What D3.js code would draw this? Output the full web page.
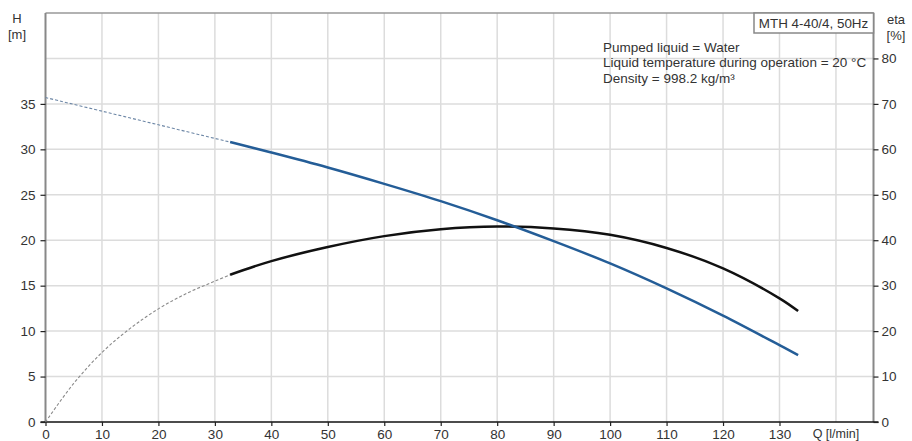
<!DOCTYPE html>
<html>
<head>
<meta charset="utf-8">
<title>MTH 4-40/4 pump curve</title>
<script src="https://d3js.org/d3.v7.min.js"></script>
<style>
  body { margin: 0; background: #fff; }
  text { font-family: "Liberation Sans", Arial, sans-serif; fill: #333; }
</style>
</head>
<body>
<div id="chart"></div>
<script>
// flow Q [l/min]
var qTicks = [0, 10, 20, 30, 40, 50, 60, 70, 80, 90, 100, 110, 120, 130];
var hTicks = [0, 5, 10, 15, 20, 25, 30, 35];
var etaTicks = [0, 10, 20, 30, 40, 50, 60, 70, 80];

// head curve, extrapolated (dashed) and operating range (solid)
var hDashQ = [0, 10, 20, 30, 32.7];
var hDashH = [35.7, 34.2, 32.7, 31.2, 30.8];
var hQ = [32.7, 40, 50, 60, 70, 80, 90, 100, 110, 120, 130, 133.3];
var hH = [30.8, 29.65, 28.0, 26.2, 24.3, 22.2, 19.9, 17.45, 14.7, 11.7, 8.45, 7.36];

// efficiency curve
var etaDashQ = [0, 5, 10, 15, 20, 25, 30, 32.7];
var etaDashE = [0, 8.5, 15.3, 20.6, 24.9, 28.3, 31.0, 32.4];
var etaQ = [32.7, 40, 50, 60, 70, 80, 90, 100, 110, 120, 130, 133.3];
var etaE = [32.4, 35.4, 38.5, 40.9, 42.4, 43.0, 42.6, 41.2, 38.3, 33.8, 27.2, 24.4];

var W = 912, H = 441;
var m = {left: 45.5, right: 912 - 873.5, top: 13, bottom: 441 - 422};

var svg = d3.select("#chart").append("svg")
  .attr("width", W).attr("height", H);

var x = d3.scaleLinear().domain([0, 146.65]).range([m.left, W - m.right]);
var y = d3.scaleLinear().domain([0, 45]).range([H - m.bottom, m.top]);
var y2 = d3.scaleLinear().domain([0, 90]).range([H - m.bottom, m.top]);

// grid
var g = svg.append("g").attr("stroke", "#dcdcdc").attr("stroke-width", 1.5);
d3.range(10, 150, 10).forEach(function(v) {
  g.append("line").attr("x1", x(v)).attr("x2", x(v))
    .attr("y1", y(0)).attr("y2", y(45));
});
d3.range(5, 45, 5).forEach(function(v) {
  g.append("line").attr("x1", x(0)).attr("x2", x.range()[1])
    .attr("y1", y(v)).attr("y2", y(v));
});

// frame
svg.append("line").attr("x1", x(0)).attr("x2", x.range()[1])
  .attr("y1", y(45)).attr("y2", y(45)).attr("stroke", "#999").attr("stroke-width", 1.5);
svg.append("line").attr("x1", x(0)).attr("x2", x(0))
  .attr("y1", y(0)).attr("y2", y(45)).attr("stroke", "#888").attr("stroke-width", 2);
svg.append("line").attr("x1", x.range()[1]).attr("x2", x.range()[1])
  .attr("y1", y(0)).attr("y2", y(45)).attr("stroke", "#888").attr("stroke-width", 2);

// axes
var xAxis = svg.append("g").attr("transform", "translate(0," + y(0) + ")")
  .call(d3.axisBottom(x).tickValues(qTicks).tickSize(4).tickPadding(3).tickSizeOuter(0));
var yAxis = svg.append("g").attr("transform", "translate(" + x(0) + ",0)")
  .call(d3.axisLeft(y).tickValues(hTicks).tickSize(5).tickPadding(5).tickSizeOuter(0));
var y2Axis = svg.append("g").attr("transform", "translate(" + x.range()[1] + ",0)")
  .call(d3.axisRight(y2).tickValues(etaTicks).tickSize(5).tickPadding(3).tickSizeOuter(0));

[xAxis, yAxis, y2Axis].forEach(function(a) {
  a.selectAll("text").style("font-size", "13.5px").attr("fill", "#333")
    .style("font-family", '"Liberation Sans", Arial, sans-serif');
  a.selectAll(".tick line").attr("stroke", "#222").attr("stroke-width", 1.2);
});
yAxis.select(".domain").remove();
y2Axis.select(".domain").remove();
xAxis.select(".domain").attr("stroke", "#111").attr("stroke-width", 1.5)
  .attr("d", "M" + (x(0) - 5) + ",0H" + (x.range()[1] + 5));

// axis titles
svg.append("text").attr("x", x(140)).attr("y", y(0) + 15.5)
  .attr("text-anchor", "middle").style("font-size", "12.5px").text("Q [l/min]");
svg.append("text").attr("x", 17).attr("y", 23).attr("text-anchor", "middle")
  .style("font-size", "13px").text("H");
svg.append("text").attr("x", 17).attr("y", 39).attr("text-anchor", "middle")
  .style("font-size", "13px").text("[m]");
svg.append("text").attr("x", 896).attr("y", 24).attr("text-anchor", "middle")
  .style("font-size", "13px").text("eta");
svg.append("text").attr("x", 896).attr("y", 40).attr("text-anchor", "middle")
  .style("font-size", "13px").text("[%]");

// curves
var lineH = d3.line().curve(d3.curveCatmullRom)
  .x(function(d) { return x(d[0]); }).y(function(d) { return y(d[1]); });
var lineE = d3.line().curve(d3.curveCatmullRom)
  .x(function(d) { return x(d[0]); }).y(function(d) { return y2(d[1]); });

svg.append("path").datum(d3.zip(hDashQ, hDashH)).attr("d", lineH)
  .attr("fill", "none").attr("stroke", "#6d87a6").attr("stroke-width", 1.1)
  .attr("stroke-dasharray", "3,2");
svg.append("path").datum(d3.zip(etaDashQ, etaDashE)).attr("d", lineE)
  .attr("fill", "none").attr("stroke", "#8a8a8a").attr("stroke-width", 1.1)
  .attr("stroke-dasharray", "3,2");
svg.append("path").datum(d3.zip(etaQ, etaE)).attr("d", lineE)
  .attr("fill", "none").attr("stroke", "#111").attr("stroke-width", 2.5);
svg.append("path").datum(d3.zip(hQ, hH)).attr("d", lineH)
  .attr("fill", "none").attr("stroke", "#245d97").attr("stroke-width", 2.5);

// title box
svg.append("rect").attr("x", 754).attr("y", 13).attr("width", 119.5).attr("height", 20)
  .attr("fill", "#fff").attr("stroke", "#888").attr("stroke-width", 1.5);
svg.append("text").attr("x", 813.5).attr("y", 28).attr("text-anchor", "middle")
  .style("font-size", "13.4px").text("MTH 4-40/4, 50Hz");

// info text
var info = ["Pumped liquid = Water", "Liquid temperature during operation = 20 \u00B0C", "Density = 998.2 kg/m\u00B3"];
info.forEach(function(t, i) {
  svg.append("text").attr("x", 603).attr("y", 51.5 + i * 15.7)
    .style("font-size", "13.5px").text(t);
});
</script>
</body>
</html>
